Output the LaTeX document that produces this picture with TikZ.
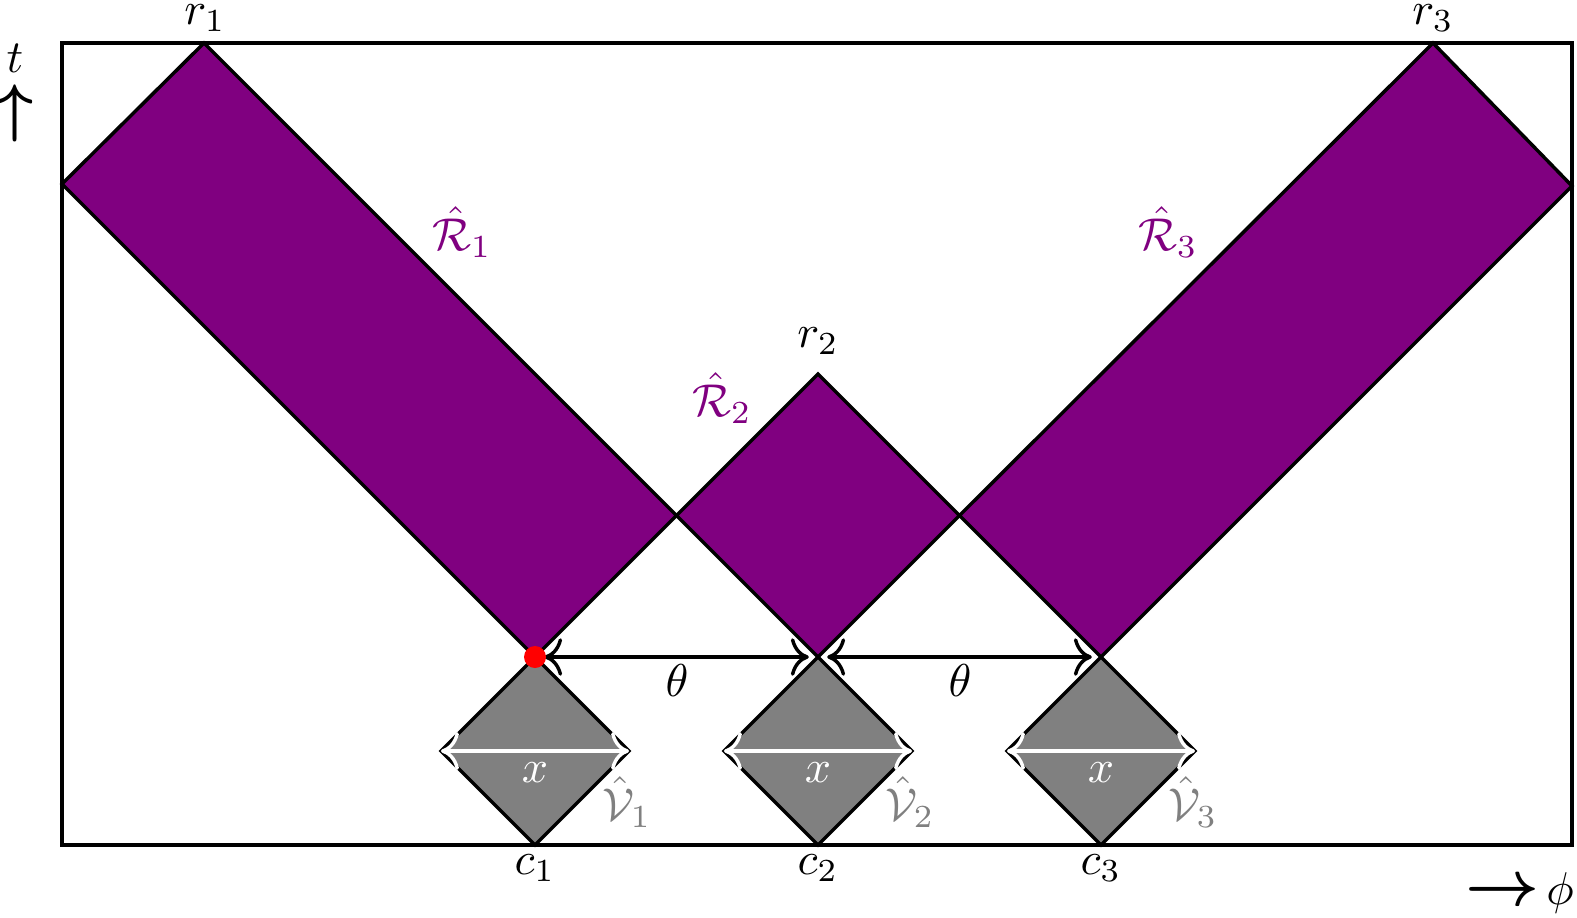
\documentclass[tikz,border=0pt]{standalone}
\usepackage{graphicx}
\usepackage{amsmath}
\usetikzlibrary{arrows.meta}
\definecolor{vpurple}{RGB}{128,0,128}
\definecolor{vgray}{RGB}{128,128,128}
\begin{document}
\begin{tikzpicture}[x=0.2174pt,y=-0.2174pt,line width=0.75pt,
  region/.style={fill=vpurple,draw=black,line join=miter},
  vregion/.style={fill=vgray,draw=black,line join=miter},
  lab/.style={inner sep=0pt,anchor=center},
  rlab/.style={lab,text=vpurple},
  vlab/.style={lab,text=vgray},
  wlab/.style={lab,text=white},
  span/.style={{To[scale=1.2]}-{To[scale=1.2]},shorten <=2pt,shorten >=2pt},
  wspan/.style={{To[scale=1.2]}-{To[scale=1.2]},draw=white}]
\useasboundingbox (0,0) rectangle (1577,917);
% key points
\coordinate (BL) at (62,845);
\coordinate (TR) at (1572,43);
\coordinate (c1) at (535,845);
\coordinate (c2) at (818,845);
\coordinate (c3) at (1101,845);
\coordinate (t1) at (535,657);
\coordinate (t2) at (818,657);
\coordinate (t3) at (1101,657);
\coordinate (l1) at (441,751);
\coordinate (rr1) at (629,751);
\coordinate (l2) at (724,751);
\coordinate (rr2) at (912,751);
\coordinate (l3) at (1007,751);
\coordinate (rr3) at (1195,751);
\coordinate (P) at (676.5,515.5);
\coordinate (Q) at (959.5,515.5);
\coordinate (r1) at (204,43);
\coordinate (r2) at (818,374);
\coordinate (r3) at (1433,43);
\coordinate (L) at (62,184);
\coordinate (R) at (1572,186);
% purple regions
\draw[region] (t1) -- (P) -- (r1) -- (L) -- cycle;
\draw[region] (P) -- (r2) -- (Q) -- (t2) -- cycle;
\draw[region] (t3) -- (Q) -- (r3) -- (R) -- cycle;
% gray regions
\draw[vregion] (c1) -- (rr1) -- (t1) -- (l1) -- cycle;
\draw[vregion] (c2) -- (rr2) -- (t2) -- (l2) -- cycle;
\draw[vregion] (c3) -- (rr3) -- (t3) -- (l3) -- cycle;
% arrows
\draw[span] (t1) -- (t2);
\draw[span] (t2) -- (t3);
\draw[wspan] (l1) -- (rr1);
\draw[wspan] (l2) -- (rr2);
\draw[wspan] (l3) -- (rr3);
% frame
\draw (BL) rectangle (TR);
% red dot
\fill[red] (t1) circle[radius=11];
% labels
\node[lab] (lr1) at (205,18) {$r_1$};
\node[lab] (lr2) at (818,341) {$r_2$};
\node[lab] (lr3) at (1433,18) {$r_3$};
\node[lab] (lc1) at (535,868) {$c_1$};
\node[lab] (lc2) at (818,868) {$c_2$};
\node[lab] (lc3) at (1101,868) {$c_3$};
\node[lab] (th1) at (677,681) {$\theta$};
\node[lab] (th2) at (960,681) {$\theta$};
\node[wlab] (x1) at (535,773) {$x$};
\node[wlab] (x2) at (818,773) {$x$};
\node[wlab] (x3) at (1101,773) {$x$};
\node[vlab] (V1) at (627,802) {$\hat{\mathcal{V}}_1$};
\node[vlab] (V2) at (910,802) {$\hat{\mathcal{V}}_2$};
\node[vlab] (V3) at (1193,802) {$\hat{\mathcal{V}}_3$};
\node[rlab] (R1) at (462,232) {$\hat{\mathcal{R}}_1$};
\node[rlab] (R2) at (722,398) {$\hat{\mathcal{R}}_2$};
\node[rlab] (R3) at (1168,232) {$\hat{\mathcal{R}}_3$};
\node[lab] (tl) at (15,58) {$t$};
\node[lab] (tu) at (15,113) {\scalebox{1.4}{$\boldsymbol{\uparrow}$}};
\node[lab] (ar) at (1503,893) {\scalebox{1.4}{$\boldsymbol{\to}$}};
\node[lab] (ph) at (1560,893) {$\phi$};
\end{tikzpicture}
\end{document}
